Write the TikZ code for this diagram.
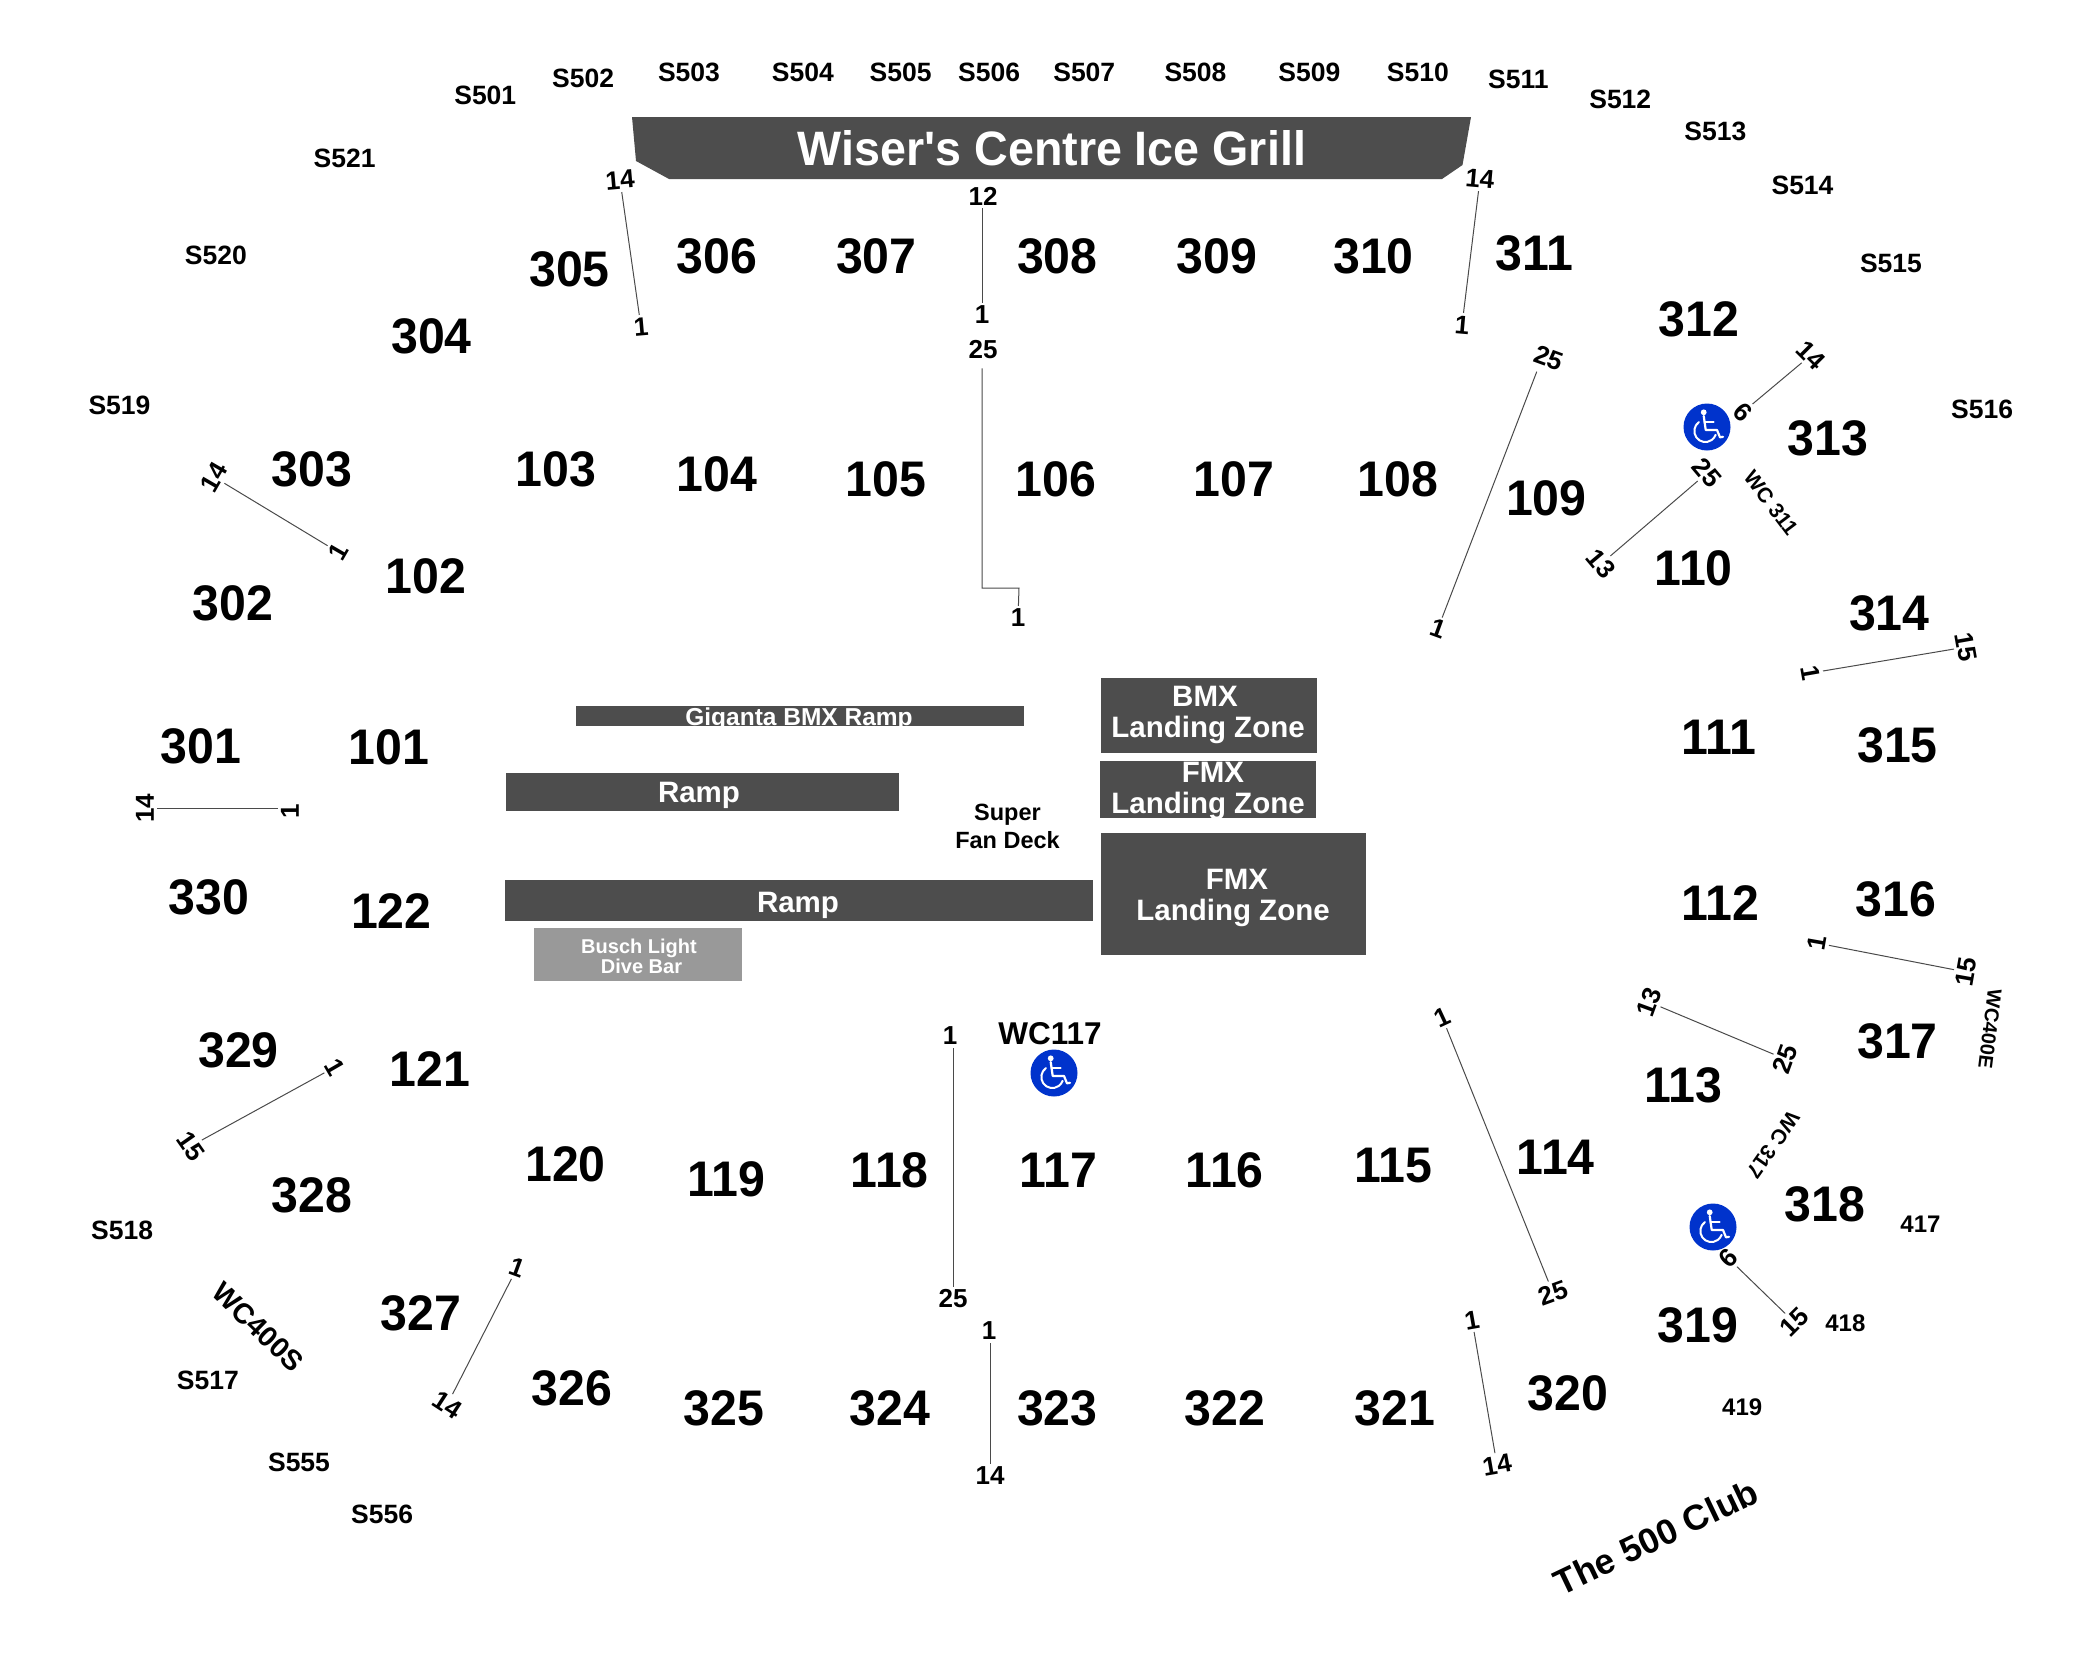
\documentclass[tikz,border=0pt]{standalone}
\usepackage{fontspec}
\setmainfont{Liberation Sans}[Ligatures=TeXOff]
\newfontfamily\secfont{Liberation Sans}[Ligatures=TeXOff,FakeStretch=0.965]
\usetikzlibrary{calc}
\definecolor{zonedark}{HTML}{4D4D4D}
\definecolor{zonelight}{HTML}{999999}
\definecolor{adablue}{HTML}{0033CC}
\definecolor{rowline}{HTML}{4A4A4A}
\newcommand{\fsz}[1]{\bfseries\fontsize{#1}{#1}\selectfont}
\newcommand{\fszl}[2]{\bfseries\fontsize{#1}{#2}\selectfont}
\tikzset{
  sec/.style={inner sep=0pt,font=\secfont\fsz{50}},
  sup/.style={inner sep=0pt,font=\fsz{26.5}},
  lod/.style={inner sep=0pt,font=\fsz{24}},
  seat/.style={inner sep=3pt,font=\fsz{26}},
  rowl/.style={draw=rowline,line width=1pt},
  dark/.style={fill=zonedark,draw=none,inner sep=0pt},
  light/.style={fill=zonelight,draw=none,inner sep=0pt},
  ztext/.style={inner sep=0pt,text=white,align=center},
  wheel/.pic={
    \fill[adablue] (0,0) circle[radius=23.5pt];
    \fill[white] (-3.3,-14.7) circle[radius=2.9pt];
    \draw[white,line width=2.2pt,line cap=round,line join=round] (-3.3,-11) -- (-1.3,3) -- (10,3) -- (13,10.3) -- (16,9.8);
    \draw[white,line width=1.8pt,line cap=round] (-2.7,-5.3) -- (6.7,-5.3);
    \draw[white,line width=2pt,line cap=round] (-8,-5) arc[start angle=125,end angle=340,radius=11pt];
  }
}
\begin{document}
\begin{tikzpicture}[x=1pt,y=-1pt]
\useasboundingbox (0,0) rectangle (2100,1676);
% Grill
\fill[zonedark] (632,117) -- (1471,117) -- (1462.5,165) -- (1442,179) -- (669,179) -- (636,161) -- cycle;
\node[ztext,font=\secfont\fsz{48.3}] (grill) at (1052,148) {Wiser's Centre Ice Grill};
% Floor blocks
\node[dark,minimum width=448pt,minimum height=20pt] (gig) at (800,716) {};
\node[ztext,font=\fsz{24.5}] (gigt) at (799,719) {Giganta BMX Ramp};
\node[dark,minimum width=393pt,minimum height=38pt] (ramp1) at (702.5,792) {};
\node[ztext,font=\fsz{29.5}] (ramp1t) at (699,795) {Ramp};
\node[dark,minimum width=588pt,minimum height=41pt] (ramp2) at (799,900.5) {};
\node[ztext,font=\fsz{29.5}] (ramp2t) at (798,905) {Ramp};
\node[light,minimum width=208.5pt,minimum height=53pt] (busch) at (638.2,954.5) {};
\node[ztext,font=\fszl{20}{20}] (buscht) at (639,956) {Busch Light\\\kern5pt Dive Bar};
\node[dark,minimum width=216pt,minimum height=75pt] (bmx) at (1209,715.5) {};
\node[ztext,font=\fszl{29.5}{31}] (bmxt) at (1208,715) {BMX\kern6pt\\Landing Zone};
\node[dark,minimum width=216pt,minimum height=57pt] (fmxa) at (1207.5,789.5) {};
\node[ztext,font=\fszl{29.5}{31}] (fmxat) at (1208,791) {\kern10pt FMX\\Landing Zone};
\node[dark,minimum width=265pt,minimum height=122pt] (fmxb) at (1233.5,894) {};
\node[ztext,font=\fszl{29.5}{31}] (fmxbt) at (1233,898) {\kern8pt FMX\\Landing Zone};
\node[inner sep=0pt,align=center,font=\fszl{23.5}{28}] (deck) at (1007.5,826) {Super\\Fan Deck};
\node[inner sep=0pt,font=\fsz{31.5}] (wc117) at (1050,1033.5) {WC117};
% Wheelchair markers
\pic at (1707,427) {wheel};
\pic at (1713,1227) {wheel};
\pic at (1054,1073) {wheel};
% Section numbers
\foreach \n/\x/\y in {305/425/201,306/535/191,307/654/191,308/789/191,309/908/191,310/1025/191,311/1145/189,304/322/251,312/1268/238,313/1364/327,303/233/350,103/415/350,104/535/354,105/661/358,106/788/358,107/921/358,108/1043/358,109/1154/372,102/318/430,302/174/450,110/1264/424,314/1410/458,301/150/557,101/290/558,111/1283/550,315/1416/556,330/156/670,122/292/680,112/1284/674,316/1415/671,329/178/784,121/321/798,317/1416/777,113/1256/810,328/233/892,120/422/869,119/542/880,118/664/873,117/790/873,116/914/873,115/1040/870,114/1161/864,318/1362/899,327/314/980,326/427/1036,325/540/1051,324/664/1051,323/789/1051,322/914/1051,321/1041/1051,320/1170/1040,319/1267/989}
  \node[sec] (s\n) at ({\x*1.34},{\y*1.34}) {\n};
% Suite labels
\foreach \n/\x/\y in {501/362/71,502/435/58,503/514/54,504/599/54,505/672/54,506/738/54,507/809/54,508/892/54,509/977/54,510/1058/54,511/1133/59,512/1209/74,513/1280/98,514/1345/138,515/1411/196,516/1479/305,521/257/118,520/161/190,519/89/302,518/91/918,517/155/1030,555/223/1091,556/285/1130}
  \node[sup] (u\n) at ({\x*1.34+.2},{\y*1.34+.5}) {S\n};
\foreach \n/\x/\y in {417/1433/913,418/1377/987,419/1300/1050}
  \node[lod] (l\n) at ({\x*1.34+.2},{\y*1.34+.5}) {\n};
% Washroom and club labels
\node[inner sep=0pt,font=\fsz{21},rotate=-53] (wca) at (1771,503) {WC 311};
\node[inner sep=0pt,font=\fsz{21},rotate=235] (wcb) at (1773,1145) {WC 317};
\node[inner sep=0pt,font=\fsz{20},rotate=-97] (wcc) at (1990,1029) {WC400E};
\node[inner sep=0pt,font=\fsz{28.5},rotate=-44] (wcd) at (258,1327) {WC400S};
\node[inner sep=0pt,font=\fsz{35.5},rotate=25.5] (club) at (1656,1537) {The 500 Club};
% Row numbers
\foreach \n/\x/\y/\r/\t in {
  aa/620/180/5/14, ab/641/327/5/1,
  ba/983/196/0/12, bb/982/315/0/1, bc/983/350/0/25, bd/1018/618/0/1,
  ca/1480/179/-5/14, cb/1462/325/-5/1,
  da/1549/358/-20/25, db/1438/629/-20/1,
  ea/1811/355/-45/14, eb/1743/412/-45/6,
  fa/1707/473/-50/25, fb/1601/564/-50/13,
  ga/1966/647/-80/15, gb/1811/673/-80/1,
  ha/1817/943/80/1, hb/1966/972/80/15,
  ia/1649/1002/70/13, ib/1785/1059/70/25,
  ja/1728/1258/45/6, jb/1794/1322/45/15,
  ka/950/1036/0/1, kb/953/1299/0/25, la/989/1331/0/1, lb/990/1476/0/14,
  ma/1442/1017/25/1, mb/1553/1293/20/25,
  na/1472/1320/10/1, nb/1497/1465/10/14,
  oa/214/477/60/14, ob/338/552/60/1,
  pa/145/808/90/14, pb/290/811/90/1,
  qa/335/1067/-60/1, qb/191/1146/-55/15,
  ra/517/1268/-20/1, rb/447/1405/-33/14}
  \node[seat,rotate=\r] (\n) at (\x,\y) {\t};
% Row lines
\coordinate (elbow) at (1019,588);
\draw[rowl] (aa) -- (ab);
\draw[rowl] (ba.south -| bb) -- (bb);
\draw[rowl,shorten <=6pt] (bc.south -| bb) |- (elbow) -- (bd);
\draw[rowl] (ca) -- (cb);
\draw[rowl] ($(da.south)+(-8,2)$) -- (db.north);
\draw[rowl] (ea) -- (eb);
\draw[rowl] (fa) -- (fb);
\draw[rowl] (ga) -- (gb);
\draw[rowl] (ha) -- (hb);
\draw[rowl] (ia) -- (ib);
\draw[rowl] (ja) -- (jb);
\draw[rowl] (ka.south -| kb) -- (kb);
\draw[rowl] (la.south -| lb) -- (lb);
\draw[rowl] (ma) -- (mb);
\draw[rowl] (na) -- (nb);
\draw[rowl] (oa) -- (ob);
\draw[rowl] (pa.south |- pa) -- (pb.north |- pa);
\draw[rowl] (qa) -- (qb);
\draw[rowl] (ra) -- (rb);
\end{tikzpicture}
\end{document}
